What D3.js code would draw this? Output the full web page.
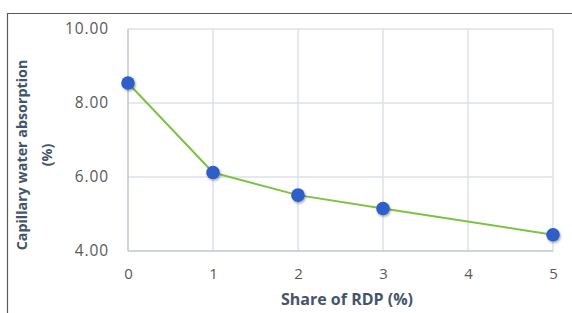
<!DOCTYPE html>
<html>
<head>
<meta charset="utf-8">
<script src="https://cdn.jsdelivr.net/npm/d3@7"></script>
<style>
  body { margin: 0; background: #fff; }
  svg { display: block; }
</style>
</head>
<body>
<div id="chart"></div>
<script>
const share = [0, 1, 2, 3, 5];
const absorption = [8.54, 6.12, 5.51, 5.15, 4.44];
const xTicks = [0, 1, 2, 3, 4, 5];
const yTicks = [4, 6, 8, 10];

const svg = d3.select("#chart").append("svg")
    .attr("width", 572)
    .attr("height", 313);

const margin = { top: 29, right: 19, bottom: 62, left: 128 },
    width = 572 - margin.left - margin.right,
    height = 313 - margin.top - margin.bottom;

// outer frame (top and left edges visible)
svg.append("path")
    .attr("d", "M7.5,313 V13.5 H572")
    .attr("fill", "none")
    .attr("stroke", "#5a5a5a")
    .attr("stroke-width", 1.2);

const x = d3.scaleLinear().domain([0, 5]).range([0, width]);
const y = d3.scaleLinear().domain([4, 10]).range([height, 0]);

const g = svg.append("g")
    .attr("transform", `translate(${margin.left},${margin.top})`);

// grid
g.selectAll(".hgrid").data(yTicks.slice(1)).enter().append("line")
    .attr("x1", 0).attr("x2", width)
    .attr("y1", d => y(d)).attr("y2", d => y(d))
    .attr("stroke", "#dde1e9").attr("stroke-width", 1.5);
g.selectAll(".vgrid").data(xTicks.slice(1)).enter().append("line")
    .attr("x1", d => x(d)).attr("x2", d => x(d))
    .attr("y1", 0).attr("y2", height)
    .attr("stroke", "#dde1e9").attr("stroke-width", 1.5);

// axis lines
g.append("line").attr("x1", 0).attr("x2", 0).attr("y1", 0).attr("y2", height)
    .attr("stroke", "#bcc4d4").attr("stroke-width", 1.5);
g.append("line").attr("x1", 0).attr("x2", width).attr("y1", height).attr("y2", height)
    .attr("stroke", "#bcc4d4").attr("stroke-width", 1.5);

// tick labels
const yAxis = g.append("g")
    .call(d3.axisLeft(y).tickValues(yTicks).tickFormat(d3.format(".2f")).tickSize(0).tickPadding(19));
yAxis.select(".domain").remove();
yAxis.selectAll("text")
    .style("font", "15.5px 'Open Sans', sans-serif")
    .style("letter-spacing", "0.9px")
    .attr("fill", "#595959");

const xAxis = g.append("g")
    .attr("transform", `translate(0,${height})`)
    .call(d3.axisBottom(x).tickValues(xTicks).tickFormat(d3.format("d")).tickSize(0).tickPadding(17));
xAxis.select(".domain").remove();
xAxis.selectAll("text")
    .style("font", "15px 'Open Sans', sans-serif")
    .attr("fill", "#595959");

// line and markers
const pts = share.map((s, i) => ({ s: s, v: absorption[i] }));

const defs = svg.append("defs");
const f = defs.append("filter").attr("id", "shadow")
    .attr("x", "-50%").attr("y", "-50%").attr("width", "200%").attr("height", "200%");
f.append("feDropShadow").attr("dx", 1).attr("dy", 1.5).attr("stdDeviation", 1.2)
    .attr("flood-color", "#000").attr("flood-opacity", 0.35);

g.append("path")
    .datum(pts)
    .attr("fill", "none")
    .attr("stroke", "#7dc243")
    .attr("stroke-width", 2)
    .attr("d", d3.line().x(d => x(d.s)).y(d => y(d.v)));

g.selectAll("circle").data(pts).enter().append("circle")
    .attr("cx", d => x(d.s))
    .attr("cy", d => y(d.v))
    .attr("r", 6.8)
    .attr("fill", "#2d5ec9")
    .attr("filter", "url(#shadow)");

// axis titles
svg.append("text")
    .attr("x", 347)
    .attr("y", 305)
    .attr("text-anchor", "middle")
    .style("font", "bold 16px 'Open Sans', sans-serif")
    .attr("fill", "#44546a")
    .text("Share of RDP (%)");

const yt = svg.append("text")
    .attr("transform", "translate(27,155) rotate(-90)")
    .attr("text-anchor", "middle")
    .style("font", "bold 14.3px 'Open Sans', sans-serif")
    .attr("fill", "#44546a");
yt.append("tspan").attr("x", 0).attr("y", 0).text("Capillary water absorption");
yt.append("tspan").attr("x", 0).attr("y", 25).text("(%)");
</script>
</body>
</html>
